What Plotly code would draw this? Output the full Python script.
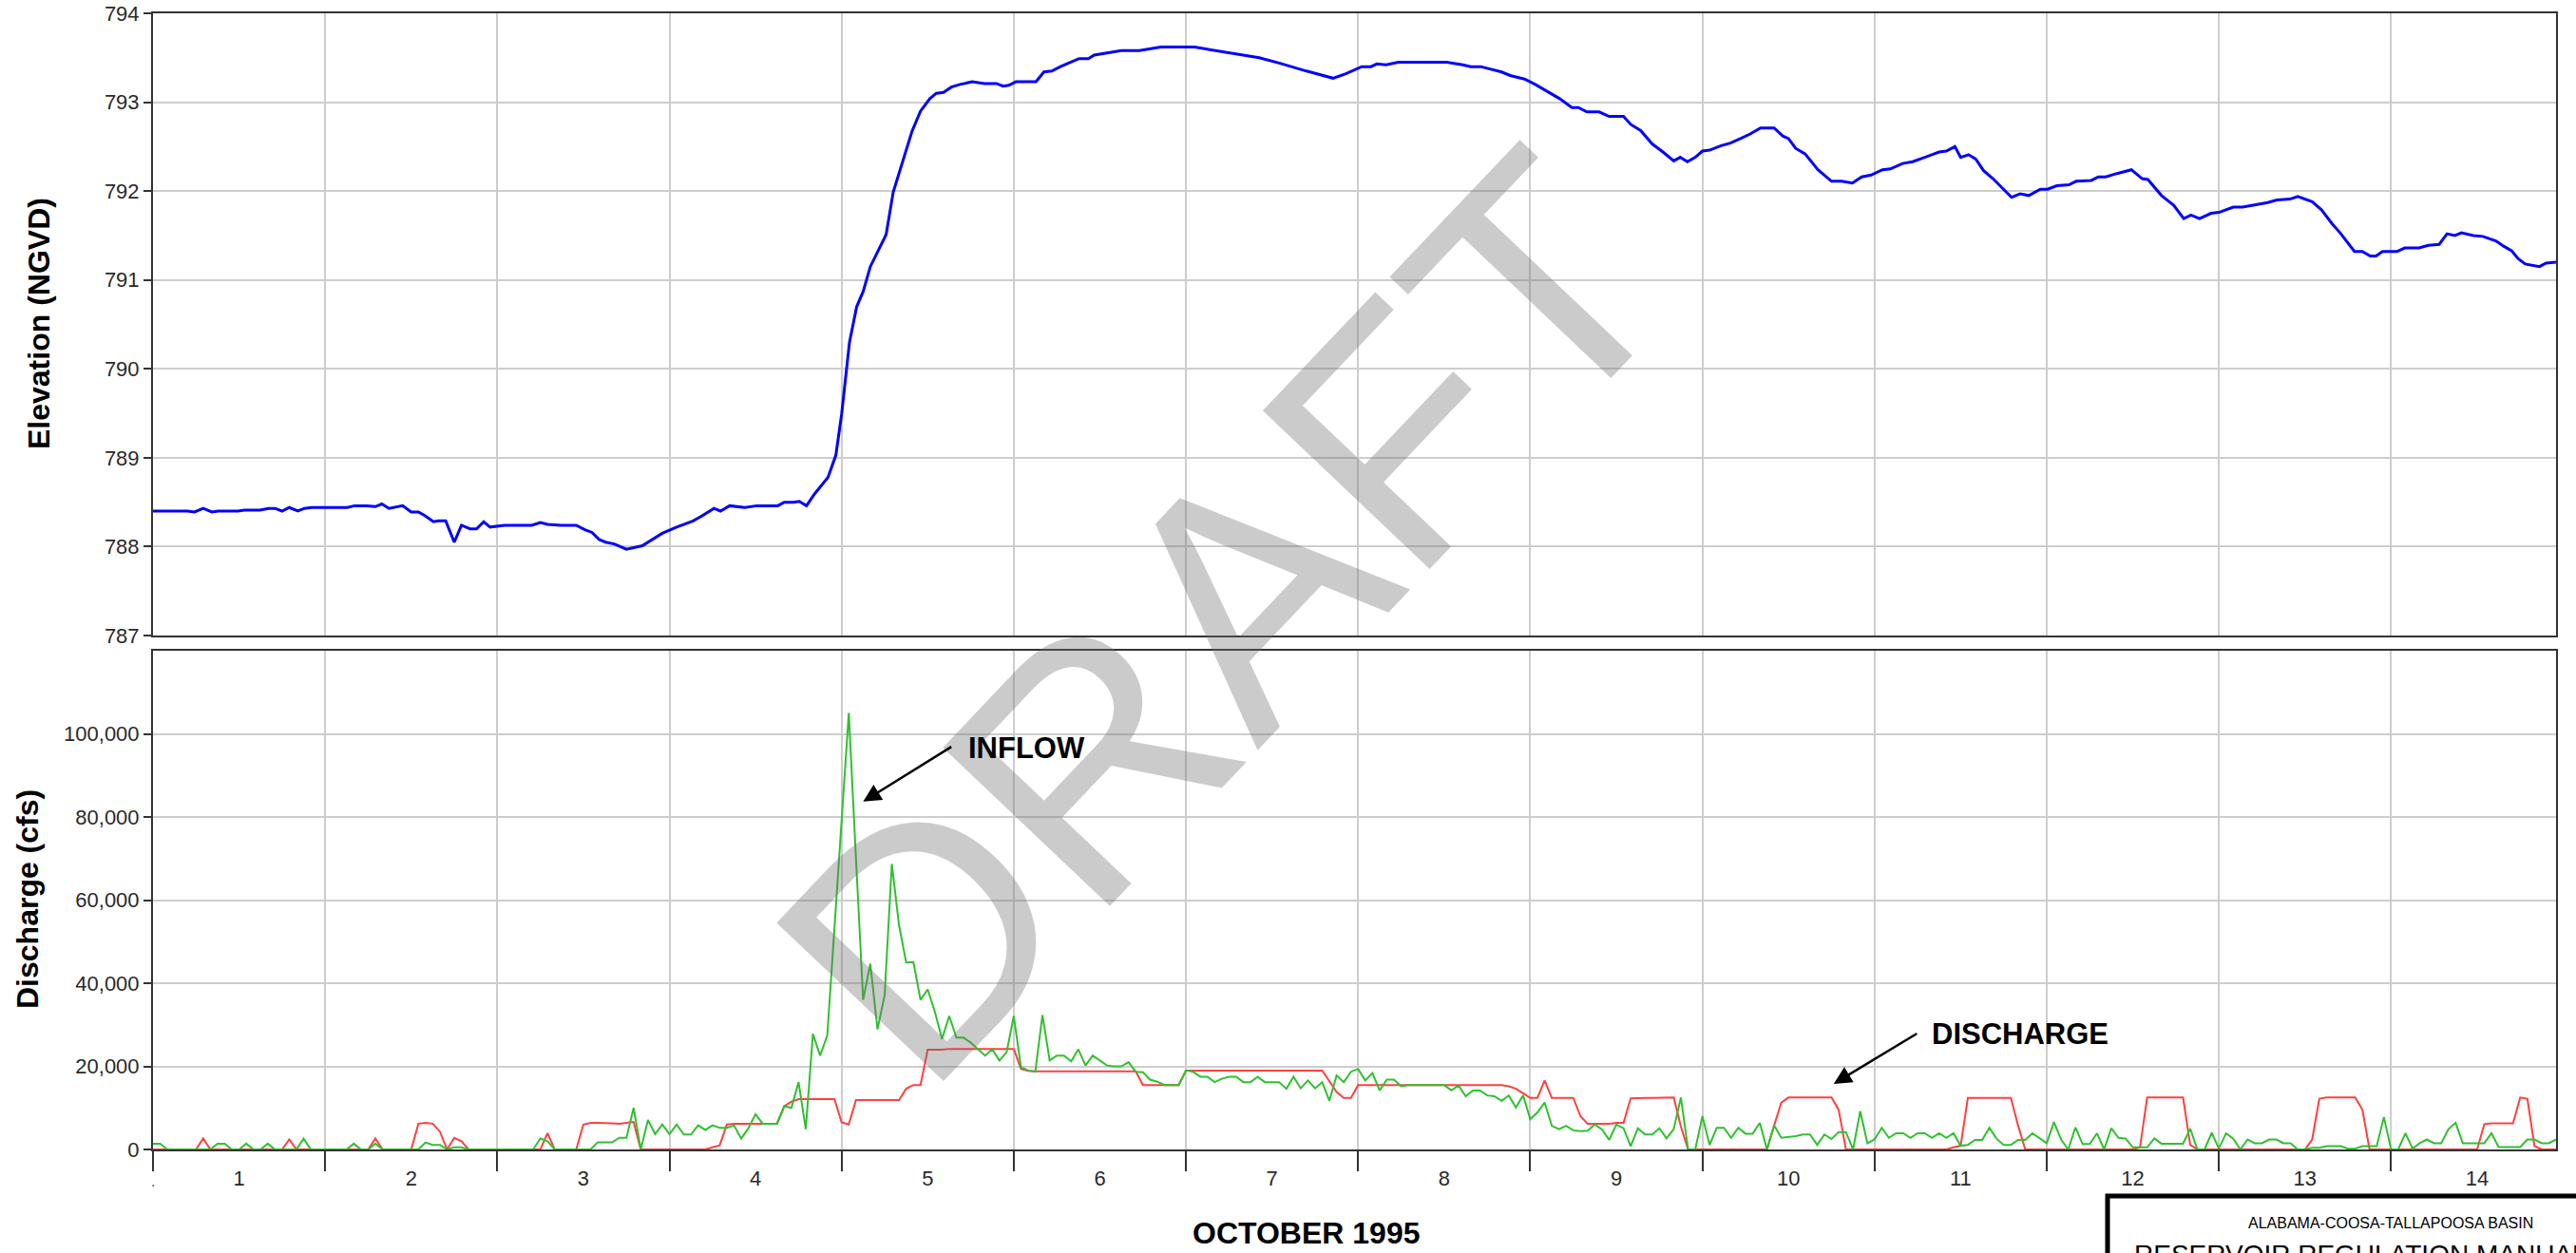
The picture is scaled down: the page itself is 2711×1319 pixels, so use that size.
import plotly.graph_objects as go

# Reservoir pool elevation (hours from Oct 1 00:00, ft NGVD)
elev_hours = [0.0, 4.8, 5.8, 7.0, 8.2, 9.1, 11.8, 12.7, 14.9, 16.1, 17.0, 18.0, 19.0, 20.2, 21.1, 22.1,
              27.1, 28.1, 29.8, 31.0, 31.9, 32.9, 34.8, 36.0, 37.0, 37.9, 39.1, 39.8, 40.8, 42.0, 43.0,
              44.2, 45.1, 46.1, 47.0, 49.0, 51.1, 52.8, 54.0, 55.0, 56.9, 59.0, 60.2, 61.2, 62.2, 63.1,
              64.3, 66.0, 68.2, 69.4, 71.0, 73.0, 75.3, 76.6, 78.2, 79.1, 80.4, 82.5, 84.2, 87.1, 88.0,
              89.3, 90.1, 91.1, 92.2, 94.1, 95.2, 96.0, 97.1, 98.1, 99.0, 100.0, 102.2, 103.2, 104.5,
              105.8, 107.0, 108.3, 109.2, 110.2, 111.3, 112.5, 114.2, 115.9, 117.6, 118.5, 119.3, 120.3,
              123.1, 124.2, 125.3, 126.5, 129.1, 130.4, 131.2, 135.0, 137.5, 140.5, 145.2, 149.0, 152.4,
              154.2, 157.0, 159.1, 160.8, 164.5, 166.3, 168.5, 169.8, 170.6, 171.9, 173.6, 180.4, 182.6,
              183.7, 185.1, 186.7, 188.0, 189.2, 191.2, 192.7, 194.6, 196.1, 197.8, 198.7, 199.9, 201.6,
              203.0, 205.0, 206.0, 207.4, 209.0, 210.5, 212.0, 212.9, 213.9, 215.0, 216.0, 217.0, 218.6,
              219.9, 221.3, 222.6, 224.1, 226.0, 227.2, 228.0, 229.0, 230.3, 232.1, 234.0, 235.4, 236.9,
              238.2, 239.5, 241.1, 242.2, 243.9, 245.3, 247.0, 249.0, 250.0, 251.2, 252.0, 253.1, 254.1,
              255.2, 256.5, 259.1, 260.3, 261.5, 263.1, 264.1, 265.4, 267.1, 268.1, 270.2, 271.2, 272.2,
              273.9, 275.8, 277.3, 278.1, 280.0, 281.7, 283.1, 284.1, 285.3, 286.9, 288.0, 290.0, 291.3,
              294.8, 296.1, 297.9, 299.0, 300.1, 301.0, 302.3, 303.8, 304.9, 306.9, 308.0, 309.1, 309.9,
              310.8, 312.8, 313.9, 315.9, 317.2, 318.7, 319.8, 320.9, 321.8, 323.5, 324.8, 326.6, 327.7,
              328.8, 329.7, 330.7, 332.7, 333.6, 335.0]
elev_ft = [788.40, 788.40, 788.39, 788.43, 788.39, 788.40, 788.40, 788.41, 788.41, 788.43, 788.43, 788.40,
           788.44, 788.40, 788.43, 788.44, 788.44, 788.46, 788.46, 788.45, 788.48, 788.43, 788.46, 788.39,
           788.39, 788.35, 788.28, 788.29, 788.29, 788.05, 788.24, 788.20, 788.20, 788.28, 788.22, 788.24,
           788.24, 788.24, 788.27, 788.25, 788.24, 788.24, 788.19, 788.16, 788.08, 788.05, 788.03, 787.97,
           788.01, 788.07, 788.15, 788.22, 788.29, 788.35, 788.43, 788.40, 788.46, 788.44, 788.46, 788.46,
           788.50, 788.50, 788.51, 788.46, 788.59, 788.78, 789.03, 789.49, 790.30, 790.70, 790.87, 791.15,
           791.51, 791.99, 792.34, 792.67, 792.90, 793.04, 793.10, 793.11, 793.17, 793.20, 793.23, 793.21,
           793.21, 793.18, 793.19, 793.23, 793.23, 793.34, 793.35, 793.40, 793.49, 793.49, 793.53, 793.58,
           793.58, 793.62, 793.62, 793.57, 793.53, 793.50, 793.44, 793.39, 793.35, 793.27, 793.32, 793.40,
           793.40, 793.43, 793.42, 793.45, 793.45, 793.42, 793.40, 793.40, 793.37, 793.34, 793.30, 793.26,
           793.20, 793.11, 793.04, 792.94, 792.94, 792.89, 792.89, 792.84, 792.84, 792.75, 792.68, 792.53,
           792.44, 792.34, 792.38, 792.33, 792.38, 792.45, 792.46, 792.51, 792.54, 792.59, 792.64, 792.71,
           792.71, 792.62, 792.59, 792.48, 792.42, 792.24, 792.11, 792.11, 792.09, 792.16, 792.18, 792.24,
           792.25, 792.31, 792.33, 792.38, 792.44, 792.45, 792.50, 792.38, 792.41, 792.36, 792.23, 792.14,
           791.93, 791.97, 791.95, 792.02, 792.02, 792.06, 792.07, 792.11, 792.12, 792.16, 792.16, 792.20,
           792.24, 792.14, 792.13, 791.95, 791.84, 791.69, 791.73, 791.69, 791.75, 791.76, 791.82, 791.82,
           791.87, 791.90, 791.91, 791.94, 791.91, 791.88, 791.79, 791.63, 791.53, 791.32, 791.32, 791.27,
           791.27, 791.32, 791.32, 791.36, 791.36, 791.39, 791.40, 791.52, 791.50, 791.53, 791.50, 791.49,
           791.44, 791.38, 791.33, 791.24, 791.18, 791.15, 791.19, 791.20]

# Hourly discharge and inflow (cfs), one row per day, Oct 1 .. Oct 14
discharge_cfs = [
    0, 0, 0, 0, 0, 0, 0, 2650, 0, 0, 0, 0, 0, 0, 0, 0, 0, 0, 0, 2400, 0, 0, 0, 0,
    0, 0, 0, 0, 0, 0, 0, 2650, 0, 0, 0, 0, 0, 6200, 6400, 6200, 4300, 0, 2800, 2000, 0, 0, 0, 0,
    0, 0, 0, 0, 0, 0, 0, 3900, 0, 0, 0, 0, 6000, 6400, 6400, 6400, 6300, 6200, 6400, 6600, 0, 0, 0, 0,
    0, 0, 0, 0, 0, 0, 500, 1000, 6000, 6200, 6200, 6200, 6200, 6200, 6200, 6200, 10400, 11500, 12100, 12100, 12100, 12100, 12100, 12100,
    6500, 6000, 11900, 11900, 11900, 11900, 11900, 11900, 11900, 14600, 15500, 15500, 24000, 24000, 24000, 24200, 24200, 24200, 24200, 24200, 24200, 24200, 24200, 24200,
    24200, 19400, 18900, 18800, 18800, 18800, 18800, 18800, 18800, 18800, 18800, 18800, 18800, 18800, 18800, 18800, 18800, 18800, 15500, 15500, 15500, 15500, 15500, 15500,
    19000, 19000, 19000, 19000, 19000, 19000, 19000, 19000, 19000, 19000, 19000, 19000, 19000, 19000, 19000, 19000, 19000, 19000, 19000, 19000, 16400, 13800, 12400, 12400,
    15500, 15500, 15500, 15500, 15500, 15500, 15500, 15500, 15500, 15500, 15500, 15500, 15500, 15500, 15500, 15500, 15500, 15500, 15500, 15500, 15500, 15200, 14600, 13500,
    12400, 12400, 16600, 12400, 12400, 12400, 12400, 8000, 6200, 6200, 6200, 6200, 6400, 6400, 12300, 12400, 12400, 12400, 12400, 12400, 12500, 5500, 0, 0,
    0, 0, 0, 0, 0, 0, 0, 0, 0, 0, 5800, 11300, 12500, 12500, 12500, 12500, 12500, 12500, 12500, 9500, 0, 0, 0, 0,
    0, 0, 0, 0, 0, 0, 0, 0, 0, 0, 0, 500, 900, 12400, 12400, 12400, 12400, 12400, 12400, 12400, 5800, 0, 0, 0,
    0, 0, 0, 0, 0, 0, 0, 0, 0, 0, 0, 0, 0, 500, 12500, 12500, 12500, 12500, 12500, 12500, 1100, 0, 0, 0,
    0, 0, 0, 0, 0, 0, 0, 0, 0, 0, 0, 0, 0, 2400, 12200, 12500, 12500, 12500, 12500, 12500, 9600, 0, 0, 0,
    0, 0, 0, 0, 0, 0, 0, 0, 0, 0, 0, 0, 0, 6100, 6300, 6300, 6300, 6300, 12500, 12200, 800, 0, 0, 0,
]
inflow_cfs = [
    1400, 1400, 0, 0, 0, 0, 0, 0, 0, 1400, 1400, 0, 0, 1400, 0, 0, 1400, 0, 0, 0, 0, 2600, 0, 0,
    0, 0, 0, 0, 1400, 0, 0, 1400, 0, 0, 0, 0, 0, 0, 1700, 1100, 1100, 0, 500, 500, 0, 0, 0, 0,
    0, 0, 0, 0, 0, 0, 2650, 2000, 0, 0, 0, 0, 0, 0, 1700, 1700, 1700, 2800, 2800, 10000, 0, 7100, 3700, 6000,
    3700, 6000, 3600, 3600, 5800, 4700, 5800, 5200, 5200, 5800, 2600, 5100, 8500, 6200, 6200, 6200, 10400, 10000, 16200, 4900, 27800, 22600, 27400, 54000,
    80500, 105000, 70000, 36000, 44700, 28900, 37100, 68700, 54000, 45000, 45100, 36000, 38500, 33100, 26600, 32100, 26900, 26900, 25700, 24200, 22600, 24100, 21400, 23400,
    32100, 19800, 19000, 18700, 32300, 21400, 22600, 22600, 21200, 24100, 20200, 22600, 21400, 20200, 20000, 20000, 21000, 18700, 18600, 16800, 16300, 15500, 15500, 15500,
    19000, 18700, 17500, 17500, 16200, 17000, 17500, 17500, 16200, 16200, 17500, 16200, 16200, 16200, 14600, 17500, 14700, 16600, 14700, 16200, 11700, 17800, 16200, 18700,
    19400, 16600, 18400, 14200, 16800, 16800, 15200, 15500, 15500, 15500, 15500, 15500, 15500, 14200, 15400, 12800, 14200, 14200, 13000, 12800, 11700, 13000, 10100, 13000,
    7300, 8900, 11300, 5700, 4900, 5700, 4600, 4400, 4500, 6000, 4800, 2300, 6000, 5100, 760, 5100, 3600, 3600, 5100, 2650, 4900, 12500, 0, 0,
    8000, 1100, 5200, 5200, 2800, 5200, 3800, 3800, 6400, 0, 5800, 2800, 3000, 3200, 3600, 3600, 1100, 3600, 2500, 4200, 4200, 0, 9200, 1500,
    2400, 5200, 2800, 3900, 3900, 2800, 3900, 3900, 2800, 3900, 2800, 3900, 900, 1100, 2300, 2300, 5200, 2600, 1100, 1100, 2300, 2300, 3900, 2800,
    1500, 6600, 2400, 0, 5300, 1300, 1300, 3900, 0, 5100, 2800, 2650, 500, 500, 500, 2650, 1400, 1400, 1400, 1400, 5000, 0, 0, 4000,
    200, 3900, 2600, 0, 2400, 1500, 1500, 2400, 2400, 1500, 1500, 0, 0, 400, 400, 800, 800, 800, 200, 200, 800, 800, 800, 7800,
    0, 0, 3900, 200, 1500, 2400, 1500, 1500, 4900, 6400, 1500, 1500, 1500, 1500, 3900, 600, 600, 600, 600, 2400, 2400, 1500, 1500, 2400,
]
flow_hours = list(range(len(inflow_cfs)))

day_labels = [str(d) for d in range(1, 15)]
day_centers = [24 * i + 12 for i in range(14)]
day_edges = [24 * i for i in range(15)]
elev_ticks = [787, 788, 789, 790, 791, 792, 793, 794]
flow_ticks = [0, 20000, 40000, 60000, 80000, 100000]

W, H = 2711, 1319
FONT = "Liberation Sans, Arial, sans-serif"
GRID = "#cdcdcd"
FRAME = "#333333"


def px(x):
    return x / W


def py(y):
    return 1 - y / H


fig = go.Figure()
fig.add_trace(go.Scatter(x=elev_hours, y=elev_ft, mode="lines", xaxis="x", yaxis="y",
                         line=dict(color="#0000ff", width=3)))
fig.add_trace(go.Scatter(x=flow_hours, y=discharge_cfs, mode="lines", xaxis="x2", yaxis="y2",
                         line=dict(color="#ff4040", width=2)))
fig.add_trace(go.Scatter(x=flow_hours, y=inflow_cfs, mode="lines", xaxis="x2", yaxis="y2",
                         line=dict(color="#30c030", width=2)))

xdom = [px(161), px(2690)]
common_x = dict(domain=xdom, range=[0, 335], showline=True, mirror=True, linecolor=FRAME,
                linewidth=2, zeroline=False, showgrid=False, layer="below traces")
common_y = dict(showline=True, mirror=True, linecolor=FRAME, linewidth=2, zeroline=False,
                showgrid=True, gridcolor=GRID, gridwidth=2, ticks="outside", ticklen=8,
                tickcolor=FRAME, tickwidth=2, tickfont=dict(family=FONT, size=22, color="#2a2a2a"),
                automargin=False)

fig.update_layout(
    width=W, height=H, margin=dict(l=0, r=0, t=0, b=0),
    paper_bgcolor="white", plot_bgcolor="white", showlegend=False,
    xaxis=dict(**common_x, anchor="y", showticklabels=False, ticks="",
               minor=dict(tickvals=day_edges, showgrid=True, gridcolor=GRID, gridwidth=2, ticks="")),
    yaxis=dict(**common_y, domain=[py(669), py(14)], range=[787, 794], tickvals=elev_ticks),
    xaxis2=dict(**common_x, anchor="y2", tickvals=day_centers, ticktext=day_labels,
                ticks="outside", ticklen=10, tickcolor="rgba(0,0,0,0)",
                tickfont=dict(family=FONT, size=22, color="#2a2a2a"),
                minor=dict(tickvals=day_edges, showgrid=True, gridcolor=GRID, gridwidth=2,
                           ticks="outside", ticklen=21, tickcolor=FRAME, tickwidth=2)),
    yaxis2=dict(**common_y, domain=[py(1210), py(685)], range=[0, 120000], tickvals=flow_ticks,
                tickformat=","),
)

title_font = dict(family=FONT, size=32, color="black")
label_font = dict(family=FONT, size=31, color="black")
annotations = [
    dict(text="<b>Elevation (NGVD)</b>", x=px(41), y=py(341), textangle=-90, font=title_font),
    dict(text="<b>Discharge (cfs)</b>", x=px(29), y=py(947), textangle=-90, font=title_font),
    dict(text="<b>OCTOBER 1995</b>", x=px(1375), y=py(1298), font=title_font),
    dict(text=".", x=px(161), y=py(1243), font=dict(family=FONT, size=16, color="#444")),
    dict(text="ALABAMA-COOSA-TALLAPOOSA BASIN", x=px(2516), y=py(1287),
         font=dict(family=FONT, size=16, color="black")),
    dict(text="RESERVOIR REGULATION MANUAL", x=px(2244), y=py(1303), xanchor="left", yanchor="top",
         font=dict(family=FONT, size=28, color="black")),
    dict(text="DRAFT", x=px(1288), y=py(650), textangle=-46.5,
         font=dict(family=FONT, size=352, color="rgba(110,110,110,0.36)")),
]
for a in annotations:
    a.update(xref="paper", yref="paper", showarrow=False)
    a.setdefault("xanchor", "center")
    a.setdefault("yanchor", "middle")

# pointer labels on the lower panel
annotations += [
    dict(text="", x=99, y=83700, ax=111.5, ay=97100, xref="x2", yref="y2", axref="x2", ayref="y2",
         showarrow=True, arrowhead=2, arrowsize=1.5, arrowwidth=2.5, arrowcolor="black"),
    dict(text="<b>INFLOW</b>", x=113.4, y=96500, xref="x2", yref="y2", xanchor="left",
         yanchor="middle", showarrow=False, font=label_font),
    dict(text="", x=234.3, y=15800, ax=246.1, ay=28100, xref="x2", yref="y2", axref="x2", ayref="y2",
         showarrow=True, arrowhead=2, arrowsize=1.5, arrowwidth=2.5, arrowcolor="black"),
    dict(text="<b>DISCHARGE</b>", x=247.7, y=27700, xref="x2", yref="y2", xanchor="left",
         yanchor="middle", showarrow=False, font=label_font),
]
fig.update_layout(annotations=annotations)

# title block frame in the lower right corner
fig.add_shape(type="rect", xref="paper", yref="paper", x0=px(2218), x1=px(2760), y0=py(1360),
              y1=py(1259), line=dict(color="black", width=5), fillcolor="rgba(0,0,0,0)")

# page body margin would shift the figure off the window edge
fig.write_html("out.html", config={"displayModeBar": False},
               post_script="document.body.style.margin='0px';")
